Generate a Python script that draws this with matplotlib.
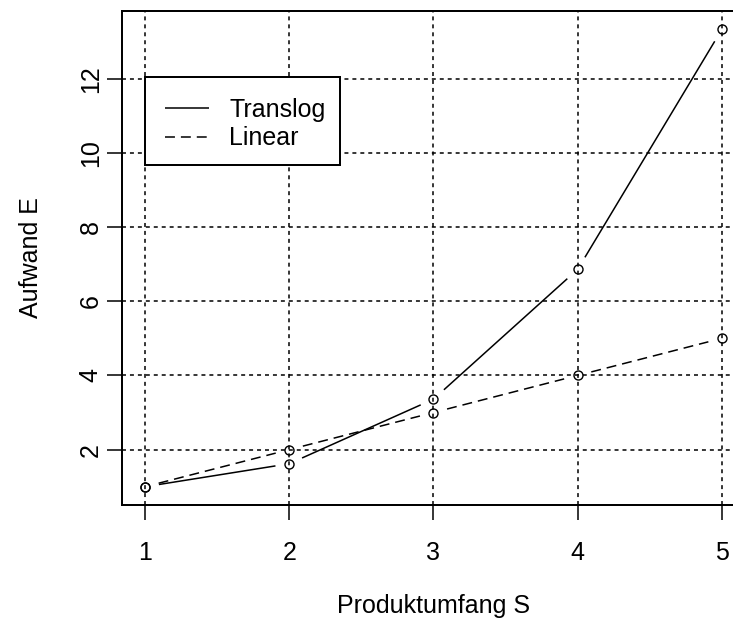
import numpy as np
import matplotlib
matplotlib.use("Agg")
import matplotlib.pyplot as plt
from matplotlib.patches import Rectangle
from matplotlib.lines import Line2D

plt.rcParams["font.family"] = ["Liberation Sans", "DejaVu Sans"]

# Data
produktumfang = [1, 2, 3, 4, 5]
aufwand_translog = [1.0, 1.62, 3.36, 6.86, 13.33]
aufwand_linear = [1.0, 2.0, 3.0, 4.0, 5.0]
series_names = ["Translog", "Linear"]
x_ticks = [1, 2, 3, 4, 5]
y_ticks = [2, 4, 6, 8, 10, 12]

DPI = 100
W, H = 733, 622
FS = 18
LW = 1.1

fig = plt.figure(figsize=(W / DPI, H / DPI), dpi=DPI)
# plot region: left 122 px, top 11 px, bottom 505 px; right edge runs past the canvas
left_px, top_px, bottom_px, right_px = 122, 11, 505, 745
ax = fig.add_axes([left_px / W, (H - bottom_px) / H,
                   (right_px - left_px) / W, (bottom_px - top_px) / H])


def px_to_axes(px, py):
    """Canvas pixel (origin top-left) -> axes fraction."""
    return ((px - left_px) / (right_px - left_px),
            (bottom_px - py) / (bottom_px - top_px))


# R-style 4% axis extension
xs = np.array(produktumfang, dtype=float)
ys_all = np.array(aufwand_translog + aufwand_linear)
xr = xs.max() - xs.min()
yr = ys_all.max() - ys_all.min()
ax.set_xlim(xs.min() - 0.04 * xr, xs.max() + 0.04 * xr)
ax.set_ylim(ys_all.min() - 0.04 * yr, ys_all.max() + 0.04 * yr)

# dotted grid
grid_style = (0, (2.6, 2.6))
for xv in x_ticks:
    ax.axvline(xv, color="black", lw=LW, ls=grid_style, zorder=1)
for yv in y_ticks:
    ax.axhline(yv, color="black", lw=LW, ls=grid_style, zorder=1)


def draw_type_b(x, y, ls, gap_px=14):
    """Lines broken around each point, with open circles at the points."""
    pts = ax.transData.transform(np.column_stack([x, y]))
    inv = ax.transData.inverted()
    for p0, p1 in zip(pts[:-1], pts[1:]):
        d = p1 - p0
        n = np.hypot(*d)
        if n <= 2 * gap_px:
            continue
        u = d / n
        a = inv.transform(p0 + u * gap_px)
        b = inv.transform(p1 - u * gap_px)
        ax.plot([a[0], b[0]], [a[1], b[1]], color="black", lw=LW, ls=ls,
                zorder=3, solid_capstyle="butt", dash_capstyle="butt")
    ax.plot(x, y, ls="none", marker="o", ms=6.5, mfc="none", mec="black",
            mew=1.0, zorder=4)


dash_style = (0, (6.5, 3.9))
line_styles = ["-", dash_style]
draw_type_b(produktumfang, aufwand_translog, line_styles[0])
draw_type_b(produktumfang, aufwand_linear, line_styles[1])

ax.set_xticks(x_ticks)
ax.set_yticks(y_ticks)
ax.set_xticklabels([str(v) for v in x_ticks])
ax.set_yticklabels([str(v) for v in y_ticks])
ax.tick_params(axis="both", direction="out", length=10.8, width=LW,
               labelsize=FS, colors="black")
ax.tick_params(axis="x", pad=15.0)
ax.tick_params(axis="y", pad=3.0, labelrotation=90)
for lab in ax.get_yticklabels():
    lab.set_va("center")

for sp in ax.spines.values():
    sp.set_linewidth(LW * 1.3)
    sp.set_color("black")

ax.set_xlabel("Produktumfang S", fontsize=FS)
ax.set_ylabel("Aufwand E", fontsize=FS)
ax.xaxis.set_label_coords(0.5, (bottom_px - 606) / (bottom_px - top_px))
ax.xaxis.label.set_va("center")
ax.yaxis.set_label_coords((31 - left_px) / (right_px - left_px), 0.5)
ax.yaxis.label.set_va("center")

# legend box (R-style layout)
x0, y0 = px_to_axes(145, 165)
x1, y1 = px_to_axes(340, 77)
ax.add_patch(Rectangle((x0, y0), x1 - x0, y1 - y0, transform=ax.transAxes,
                       facecolor="white", edgecolor="black", lw=LW * 1.3,
                       zorder=10))
row_baselines = [116.5, 145]
for name, ls, base in zip(series_names, line_styles, row_baselines):
    hx0, hy = px_to_axes(165, base - 8.5)
    hx1, _ = px_to_axes(209, base - 8.5)
    ax.add_line(Line2D([hx0, hx1], [hy, hy], transform=ax.transAxes,
                       color="black", lw=LW, ls=ls, zorder=11,
                       solid_capstyle="butt", dash_capstyle="butt"))
    tx, ty = px_to_axes(229, base)
    ax.text(tx, ty, name, transform=ax.transAxes, fontsize=FS,
            ha="left", va="baseline", zorder=11)

fig.savefig("out.png", dpi=DPI)
